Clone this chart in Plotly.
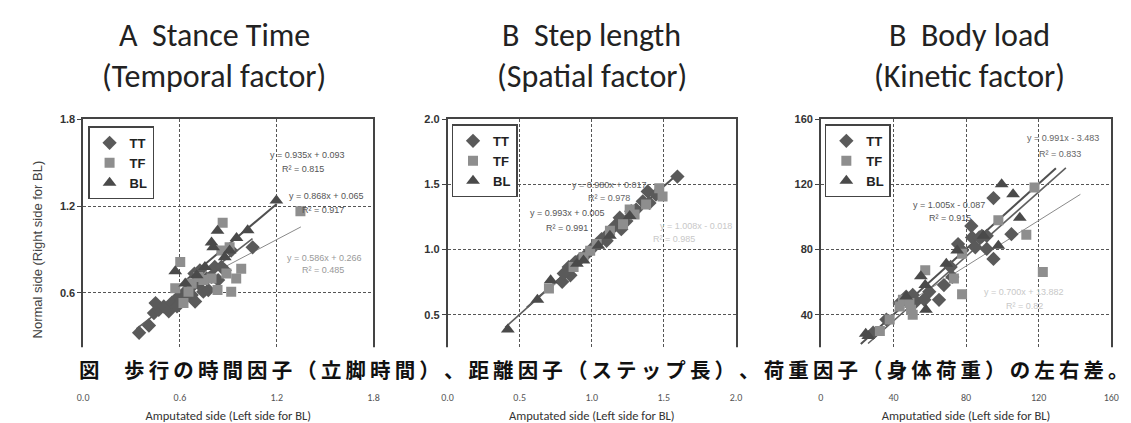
import plotly.graph_objects as go

W, H = 1131, 423

# ---------------- data ----------------
# Panel A: Stance time
A_TT_x = [0.347,0.408,0.439,0.469,0.449,0.50,0.531,0.551,0.592,0.633,0.673,0.690,0.714,0.745,0.765,0.796,0.837,0.673,0.643,0.612,0.776,0.816,0.857,0.918,1.051,0.724,0.878,0.694,0.582]
A_TT_y = [0.325,0.375,0.461,0.484,0.530,0.507,0.473,0.534,0.575,0.609,0.586,0.734,0.666,0.609,0.700,0.711,0.689,0.643,0.575,0.552,0.620,0.780,0.780,0.893,0.916,0.757,0.757,0.541,0.507]
A_TF_x = [0.602,0.571,0.622,0.865,0.857,0.796,0.833,0.888,0.918,0.949,0.980,1.347,0.673,0.714,0.653,0.745,0.908]
A_TF_y = [0.814,0.632,0.530,1.086,0.893,0.700,0.620,0.734,0.609,0.700,0.768,1.166,0.666,0.711,0.609,0.689,0.916]
A_BL_x = [1.198,1.020,0.951,0.796,0.806,0.833,0.571,0.755,0.704,0.633,0.908,0.878]
A_BL_y = [1.239,1.034,0.980,0.950,0.916,1.030,0.750,0.780,0.723,0.666,0.893,0.848]

# Panel B: Step length
B_TT_x = [0.795,0.852,0.840,0.886,0.966,1.011,1.068,1.114,1.160,1.194,1.240,1.274,1.308,1.354,1.388,1.400,1.445,1.594,0.806,0.920,1.103,1.205]
B_TT_y = [0.753,0.803,0.866,0.904,0.967,1.018,1.081,1.119,1.182,1.245,1.220,1.295,1.308,1.371,1.447,1.359,1.422,1.561,0.816,0.929,1.068,1.157]
B_TF_x = [0.703,0.874,0.943,1.034,1.126,1.217,1.297,1.377,1.491,1.468,0.989,1.263]
B_TF_y = [0.702,0.866,0.942,1.043,1.144,1.194,1.270,1.346,1.409,1.472,0.992,1.308]
B_BL_x = [0.418,0.623,0.715,0.897,1.046,1.126,1.263,0.943]
B_BL_y = [0.386,0.614,0.765,0.891,1.030,1.106,1.258,0.917]

# Panel C: Body load
C_TT_x = [65.1,59.7,67.8,72.4,71.5,75.6,82.9,83.3,88.7,91.4,95.1,95.1,91.4,105.0,77.8,47.0,43.4,50.6,52.4,57.0,36.1,28.8,85.1,87.3]
C_TT_y = [49.1,54.1,58.2,63.2,69.3,83.4,94.5,87.5,88.5,88.5,111.7,74.3,80.4,89.5,79.4,51.1,47.1,52.1,48.1,49.1,37.0,28.9,81.4,87.5]
C_TF_x = [117.7,97.8,113.2,122.3,77.8,57.5,73.3,77.8,45.2,49.7,50.6,37.9,32.5,43.4,48.8]
C_TF_y = [118.2,98.0,89.1,66.3,52.5,67.3,62.2,77.4,49.1,43.0,40.0,37.0,29.9,45.1,47.1]
C_BL_x = [24.7,99.6,105.9,109.6,97.8,69.1,55.1,57.5,57.9,75.1,26.1,47.0,89.6]
C_BL_y = [28.3,120.2,114.1,99.6,82.4,71.3,63.6,58.2,43.0,79.4,26.9,51.1,88.5]

# regression equations: (slope, intercept, x_start, x_end, label, r2 label)
A_fits = [(0.935, 0.093, 0.55, 1.20, "y = 0.935x + 0.093", "R² = 0.815"),
          (0.868, 0.065, 0.33, 1.05, "y = 0.868x + 0.065", "R² = 0.917"),
          (0.586, 0.266, 0.58, 1.35, "y = 0.586x + 0.266", "R² = 0.485")]
B_fits = [(0.980, 0.017, 0.55, 1.60, "y = 0.980x + 0.017", "R² = 0.978"),
          (0.993, 0.005, 0.40, 1.30, "y = 0.993x + 0.005", "R² = 0.991"),
          (1.008, -0.018, 0.70, 1.50, "y = 1.008x - 0.018", "R² = 0.985")]
C_fits = [(1.005, -0.087, 22.0, 129.5, "y = 1.005x - 0.087", "R² = 0.915"),
          (0.991, -3.483, 26.0, 135.0, "y = 0.991x - 3.483", "R² = 0.833"),
          (0.700, 13.882, 40.0, 143.0, "y = 0.700x + 13.882", "R² = 0.82")]

titles_1 = ["A  Stance Time", "B  Step length", "B  Body load"]
titles_2 = ["(Temporal factor)", "(Spatial factor)", "(Kinetic factor)"]
x_titles = ["Amputated side (Left side for BL)", "Amputated side (Left side for BL)",
            "Amputatied side (Left side for BL)"]
y_title = "Normal side (Right side for BL)"
A_ticks = [0.0, 0.6, 1.2, 1.8]
B_ticks = [0.0, 0.5, 1.0, 1.5, 2.0]
C_ticks = [0, 40, 80, 120, 160]
caption = "図　歩行の時間因子（立脚時間）、距離因子（ステップ長）、荷重因子（身体荷重）の左右差。"

# ---------------- styling ----------------
series_style = {
    "TT": dict(symbol="diamond", color="#5a5a5a", size=11),
    "TF": dict(symbol="square", color="#8e8e8e", size=10),
    "BL": dict(symbol="triangle-up", color="#4a4a4a", size=12),
}
line_styles = [dict(color="#505050", width=2.0),
               dict(color="#606060", width=1.6),
               dict(color="#8a8a8a", width=1.0)]
A_text_colors = [["#555", "#555"], ["#555", "#555"], ["#999", "#999"]]
B_text_colors = [["#666", "#666"], ["#555", "#555"], ["#c8c8c8", "#c8c8c8"]]
C_text_colors = [["#555", "#555"], ["#666", "#666"], ["#c8c8c8", "#c8c8c8"]]

def px2x(p):
    return p / W

def px2y(p):
    return 1 - p / H

xdomains = [[px2x(70), px2x(364)], [px2x(439), px2x(731)], [px2x(817), px2x(1111)]]
ydomain = [px2y(371), px2y(107)]

fig = go.Figure()

panels = [
    (A_TT_x, A_TT_y, A_TF_x, A_TF_y, A_BL_x, A_BL_y, A_fits),
    (B_TT_x, B_TT_y, B_TF_x, B_TF_y, B_BL_x, B_BL_y, B_fits),
    (C_TT_x, C_TT_y, C_TF_x, C_TF_y, C_BL_x, C_BL_y, C_fits),
]
legend_names = ["legend", "legend2", "legend3"]
legend_pos = [(75, 114), (443, 112), (821, 112)]

# text positions (data coords) for equations
eq_pos = [
    [((1.39, 1.554), (1.36, 1.459)), ((1.506, 1.268), (1.488, 1.172)), ((1.494, 0.845), (1.488, 0.757))],
    [((1.123, 1.50), (1.123, 1.40)), ((0.829, 1.28), (0.829, 1.167)), ((1.72, 1.18), (1.57, 1.083))],
    [((70.7, 107.3), (71.3, 99.4)), ((133.3, 148.5), (132.0, 138.8)), ((112.0, 54.0), (112.0, 45.5))],
]
eq_colors = [A_text_colors, B_text_colors, C_text_colors]

annotations = []
for i, (ttx, tty, tfx, tfy, blx, bly, fits) in enumerate(panels):
    xa = "x" if i == 0 else f"x{i+1}"
    ya = "y" if i == 0 else f"y{i+1}"
    for k, (m, b, x0, x1, _, _) in enumerate(fits):
        fig.add_trace(go.Scatter(x=[x0, x1], y=[m * x0 + b, m * x1 + b], mode="lines",
                                 line=line_styles[k], showlegend=False, hoverinfo="skip",
                                 xaxis=xa, yaxis=ya))
    for name, xs, ys in (("TT", ttx, tty), ("TF", tfx, tfy), ("BL", blx, bly)):
        st = series_style[name]
        fig.add_trace(go.Scatter(x=xs, y=ys, mode="markers", name=name,
                                 marker=dict(symbol=st["symbol"], color=st["color"], size=st["size"],
                                             line=dict(width=0)),
                                 xaxis=xa, yaxis=ya, legend=legend_names[i]))
    for k, fit in enumerate(fits):
        (ex, ey), (rx, ry) = eq_pos[i][k]
        c1, c2 = eq_colors[i][k]
        annotations.append(dict(x=ex, y=ey, xref=xa, yref=ya, text=fit[4], showarrow=False,
                                font=dict(size=9, color=c1, family="Liberation Sans")))
        annotations.append(dict(x=rx, y=ry, xref=xa, yref=ya, text=fit[5], showarrow=False,
                                font=dict(size=9, color=c2, family="Liberation Sans")))

title_font = "Carlito, 'Liberation Sans Narrow', Lato, sans-serif"
title_centers = [203, 585, 967]
for i in range(3):
    annotations.append(dict(x=px2x(title_centers[i]), y=px2y(22), xref="paper", yref="paper",
                            text=titles_1[i], showarrow=False, xanchor="center", yanchor="middle",
                            font=dict(size=32, color="#222", family=title_font)))
    annotations.append(dict(x=px2x(title_centers[i]), y=px2y(63), xref="paper", yref="paper",
                            text=titles_2[i], showarrow=False, xanchor="center", yanchor="middle",
                            font=dict(size=32, color="#222", family=title_font)))

# caption (thin spaces emulate the letter spacing)
cap_text = caption[0] + "\u3000\u2009" + "\u2009".join(caption[2:])
annotations.append(dict(x=px2x(64), y=px2y(360), xref="paper", yref="paper", text=cap_text,
                        showarrow=False, xanchor="left", yanchor="middle",
                        font=dict(size=20.5, color="#111", family="Noto Sans CJK JP", weight="bold")))

layout = dict(
    width=W, height=H, margin=dict(l=0, r=0, t=0, b=0),
    paper_bgcolor="white", plot_bgcolor="white",
    annotations=annotations,
    shapes=[dict(type="rect", xref="paper", yref="paper", x0=px2x(26), x1=1.0,
                 y0=px2y(377), y1=px2y(338), fillcolor="white", line=dict(width=0), layer="above")],
)

tick_lists = [A_ticks, B_ticks, C_ticks]
ranges = [[0, 1.8], [0, 2.0], [0, 160]]
fmt = [".1f", ".1f", "d"]
for i in range(3):
    xk = "xaxis" if i == 0 else f"xaxis{i+1}"
    yk = "yaxis" if i == 0 else f"yaxis{i+1}"
    ya = "y" if i == 0 else f"y{i+1}"
    xa = "x" if i == 0 else f"x{i+1}"
    layout[xk] = dict(domain=xdomains[i], range=ranges[i], anchor=ya, tickvals=tick_lists[i],
                      tickformat=fmt[i], showgrid=True, gridcolor="#555", griddash="3px,2px",
                      gridwidth=1, zeroline=False, showline=True, linecolor="#444", linewidth=1.5,
                      mirror=True, ticks="", ticklabelstandoff=8,
                      tickfont=dict(size=10, color="#555", family=title_font),
                      title=dict(text=x_titles[i], standoff=8,
                                 font=dict(size=12.5, color="#333", family=title_font)))
    # the 0 tick of the y axes lies under the caption band, so it is not labelled
    layout[yk] = dict(domain=ydomain, range=ranges[i], anchor=xa, tickvals=tick_lists[i][1:],
                      tickformat=fmt[i], showgrid=True, gridcolor="#555", griddash="3px,2px",
                      gridwidth=1, zeroline=False, showline=True, linecolor="#444", linewidth=1.5,
                      mirror=True, ticks="outside", ticklen=4, tickcolor="#444",
                      tickfont=dict(size=11, color="#333", family="Liberation Sans", weight="bold"))
    ln = legend_names[i]
    lx, ly = legend_pos[i]
    layout[ln] = dict(x=px2x(lx), y=px2y(ly), xanchor="left", yanchor="top",
                      bgcolor="white", bordercolor="#444", borderwidth=1.5,
                      font=dict(size=13, color="#222", family="Liberation Sans", weight="bold"),
                      itemwidth=30, tracegroupgap=0)

layout["yaxis"]["title"] = dict(text=y_title, standoff=14,
                                font=dict(size=13, color="#444", family="Liberation Sans"))

fig.update_layout(**layout)
fig.write_html("out.html")
